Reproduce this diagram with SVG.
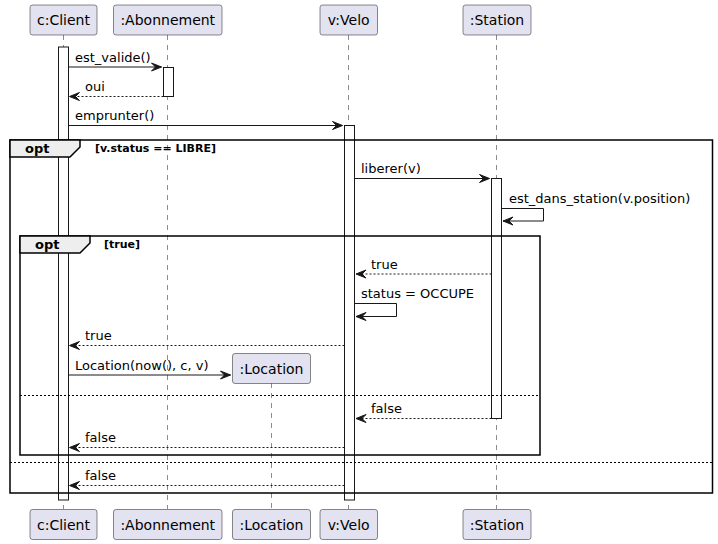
<svg xmlns="http://www.w3.org/2000/svg" width="718" height="544" viewBox="0 0 718 544">
<style>
.life{stroke:#181818;stroke-width:0.5;stroke-dasharray:5,5;fill:none}
.box{fill:#E2E2F0;stroke:#181818;stroke-width:0.5}
.pt{font-family:"DejaVu Sans",sans-serif;font-size:14px;fill:#000;text-anchor:middle}
.act{fill:#FFFFFF;stroke:#181818;stroke-width:1}
.msg{stroke:#181818;stroke-width:1;fill:none}
.ret{stroke:#181818;stroke-width:1;fill:none;stroke-dasharray:2,2}
.ah{fill:#181818;stroke:#181818;stroke-width:1}
.mt{font-family:"DejaVu Sans",sans-serif;font-size:13px;fill:#000}
.frame{fill:none;stroke:#000;stroke-width:1.5}
.tab{fill:#EEEEEE;stroke:#000;stroke-width:1.5}
.ft{font-family:"DejaVu Sans",sans-serif;font-size:13px;font-weight:bold;fill:#000}
.gt{font-family:"DejaVu Sans",sans-serif;font-size:11px;font-weight:bold;fill:#000}
.sep{stroke:#000;stroke-width:1;stroke-dasharray:2,2;fill:none}
</style>
<rect width="718" height="544" fill="#FFFFFF"/>
<g id="lifelines">
<line class="life" x1="63.5" y1="35" x2="63.5" y2="509"/>
<line class="life" x1="167.5" y1="35" x2="167.5" y2="509"/>
<line class="life" x1="271.5" y1="383" x2="271.5" y2="509"/>
<line class="life" x1="348.5" y1="35" x2="348.5" y2="509"/>
<line class="life" x1="496.5" y1="35" x2="496.5" y2="509"/>
</g>
<g id="activations">
<rect class="act" x="58.5" y="47" width="10" height="453"/>
<rect class="act" x="163.5" y="67.5" width="10" height="29"/>
<rect class="act" x="344.5" y="125.5" width="10" height="374.5"/>
<rect class="act" x="491.5" y="178.5" width="10" height="240"/>
</g>
<g id="frames">
<rect class="frame" x="10" y="140" width="702.5" height="353"/>
<polygon class="tab" points="10,140 80,140 80,147 70,157 10,157"/>
<text class="ft" x="25" y="153">opt</text>
<text class="gt" x="95" y="152">[v.status == LIBRE]</text>
<line class="sep" x1="10" y1="462.5" x2="712.5" y2="462.5"/>
<rect class="frame" x="20" y="236" width="520" height="219"/>
<polygon class="tab" points="20,236 90,236 90,243 80,253 20,253"/>
<text class="ft" x="35" y="249">opt</text>
<text class="gt" x="104" y="248">[true]</text>
<line class="sep" x1="20" y1="395.5" x2="540" y2="395.5"/>
</g>
<g id="client">
<rect class="box" x="30" y="5" width="67" height="30" rx="2.5"/>
<text class="pt" x="63.5" y="25">c:Client</text>
<rect class="box" x="30" y="509.5" width="67" height="30" rx="2.5"/>
<text class="pt" x="63.5" y="529.5">c:Client</text>
</g>
<g id="abonnement">
<rect class="box" x="113.5" y="5" width="108.5" height="30" rx="2.5"/>
<text class="pt" x="167.75" y="25">:Abonnement</text>
<rect class="box" x="113.5" y="509.5" width="108.5" height="30" rx="2.5"/>
<text class="pt" x="167.75" y="529.5">:Abonnement</text>
</g>
<g id="location">
<rect class="box" x="232.5" y="353.5" width="78" height="30" rx="2.5"/>
<text class="pt" x="271.5" y="373.5">:Location</text>
<rect class="box" x="232.5" y="509.5" width="78" height="30" rx="2.5"/>
<text class="pt" x="271.5" y="529.5">:Location</text>
</g>
<g id="velo">
<rect class="box" x="320" y="5" width="57.5" height="30" rx="2.5"/>
<text class="pt" x="348.75" y="25">v:Velo</text>
<rect class="box" x="320" y="509.5" width="57.5" height="30" rx="2.5"/>
<text class="pt" x="348.75" y="529.5">v:Velo</text>
</g>
<g id="station">
<rect class="box" x="463" y="5" width="68" height="30" rx="2.5"/>
<text class="pt" x="497" y="25">:Station</text>
<rect class="box" x="463" y="509.5" width="68" height="30" rx="2.5"/>
<text class="pt" x="497" y="529.5">:Station</text>
</g>
<g id="connectors">
<line class="msg" x1="68.5" y1="67" x2="161.5" y2="67"/>
<polygon class="ah" points="151.5,63 161.5,67 151.5,71 155.5,67"/>
<text class="mt" x="75" y="62">est_valide()</text>

<line class="ret" x1="163.5" y1="96.5" x2="70" y2="96.5"/>
<polygon class="ah" points="79.5,92.5 69.5,96.5 79.5,100.5 75.5,96.5"/>
<text class="mt" x="85" y="91">oui</text>

<line class="msg" x1="68.5" y1="125.5" x2="342.5" y2="125.5"/>
<polygon class="ah" points="332.5,121.5 342.5,125.5 332.5,129.5 336.5,125.5"/>
<text class="mt" x="75" y="120">emprunter()</text>

<line class="msg" x1="354.5" y1="178.5" x2="489.5" y2="178.5"/>
<polygon class="ah" points="479.5,174.5 489.5,178.5 479.5,182.5 483.5,178.5"/>
<text class="mt" x="361" y="173">liberer(v)</text>

<polyline class="msg" points="501.5,208.5 543.5,208.5 543.5,221 503,221"/>
<polygon class="ah" points="513,217 503,221 513,225 509,221"/>
<text class="mt" x="509" y="203">est_dans_station(v.position)</text>

<line class="ret" x1="491.5" y1="274" x2="356" y2="274"/>
<polygon class="ah" points="366,270 356,274 366,278 362,274"/>
<text class="mt" x="371" y="268.5">true</text>

<polyline class="msg" points="354.5,303.5 396.5,303.5 396.5,316.5 356,316.5"/>
<polygon class="ah" points="366,312.5 356,316.5 366,320.5 362,316.5"/>
<text class="mt" x="361" y="298">status = OCCUPE</text>

<line class="ret" x1="344.5" y1="345.5" x2="70" y2="345.5"/>
<polygon class="ah" points="79.5,341.5 69.5,345.5 79.5,349.5 75.5,345.5"/>
<text class="mt" x="85" y="340">true</text>

<line class="msg" x1="68.5" y1="375" x2="230.5" y2="375"/>
<polygon class="ah" points="220.5,371 230.5,375 220.5,379 224.5,375"/>
<text class="mt" x="75" y="369.5">Location(now(), c, v)</text>

<line class="ret" x1="491.5" y1="418.5" x2="356" y2="418.5"/>
<polygon class="ah" points="366,414.5 356,418.5 366,422.5 362,418.5"/>
<text class="mt" x="371" y="413">false</text>

<line class="ret" x1="344.5" y1="447.5" x2="70" y2="447.5"/>
<polygon class="ah" points="79.5,443.5 69.5,447.5 79.5,451.5 75.5,447.5"/>
<text class="mt" x="85" y="442">false</text>

<line class="ret" x1="344.5" y1="485.5" x2="70" y2="485.5"/>
<polygon class="ah" points="79.5,481.5 69.5,485.5 79.5,489.5 75.5,485.5"/>
<text class="mt" x="85" y="480">false</text>
</g>
</svg>
